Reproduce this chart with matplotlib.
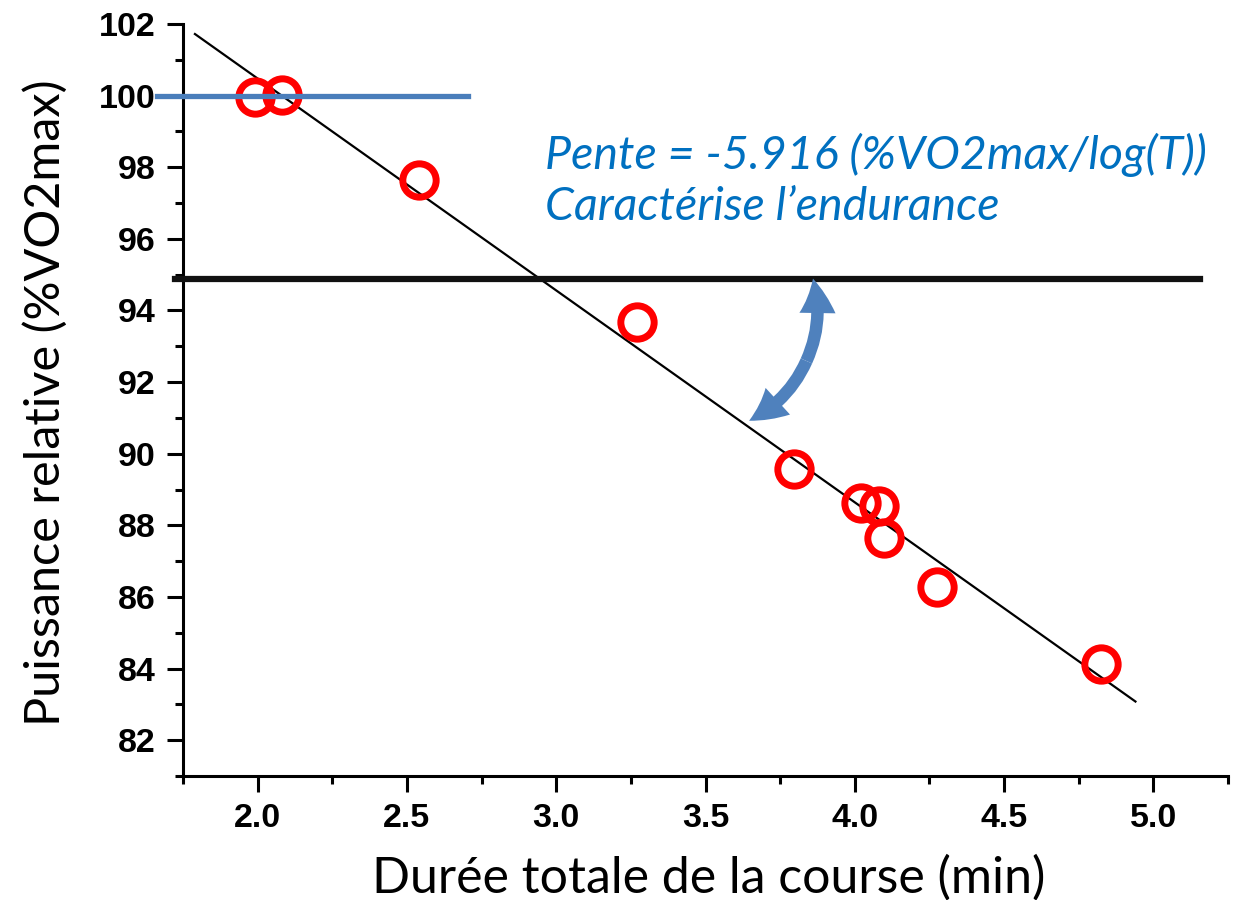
import numpy as np
import matplotlib.pyplot as plt
from matplotlib.patches import FancyArrowPatch
from matplotlib.ticker import MultipleLocator

# measured points (duree en min, puissance en %VO2max)
duree = [1.99, 2.08, 2.54, 3.27, 3.795, 4.02, 4.08, 4.097, 4.275, 4.826]
puissance = [99.97, 100.01, 97.64, 93.67, 89.57, 88.61, 88.55, 87.64, 86.28, 84.13]

# regression line ends
fit_x = [1.79, 4.94]
fit_y = [101.72, 83.08]

# reference levels
ref_x = [1.663, 2.705]
ref_y = [100, 100]
seuil_x = [1.723, 5.157]
seuil_y = [94.89, 94.89]

fig = plt.figure(figsize=(12.4, 9), dpi=100)
ax = fig.add_axes([183/1240, 1-776/900, 1045/1240, 752/900])

ax.plot(fit_x, fit_y, color='black', lw=1.6, zorder=2)
ax.plot(duree, puissance, 'o', ms=24, mfc='none', mec='#ff0000', mew=5, zorder=3)
ax.plot(ref_x, ref_y, color='#4a7ebb', lw=3.8, clip_on=False, zorder=4)
ax.plot(seuil_x, seuil_y, color='#111111', lw=4.5, clip_on=False, zorder=4)

# curved double arrow, drawn as two halves from the middle of the arc
arc_mid = (3.838, 92.59)
arc_top = (3.860, 94.89)
arc_bot = (3.646, 90.92)
style = 'simple,head_length=2.5,head_width=2.6,tail_width=0.9'
for end, rad in [(arc_top, 0.18), (arc_bot, -0.18)]:
    ax.add_patch(FancyArrowPatch(arc_mid, end, arrowstyle=style,
                                 connectionstyle='arc3,rad=%s' % rad,
                                 mutation_scale=10, lw=0, color='#4f81bd',
                                 shrinkA=0, shrinkB=0, zorder=5))

ax.text(2.964, 97.94, 'Pente = -5.916 (%VO2max/log(T))', color='#0070c0',
        fontsize=33.5, family='Lato', style='italic', va='baseline')
ax.text(2.964, 96.52, 'Caractérise l\u2019endurance', color='#0070c0',
        fontsize=33.5, family='Lato', style='italic', va='baseline')

ax.set_xlim(1.75, 5.25)
ax.set_ylim(81, 102)
ax.xaxis.set_minor_locator(MultipleLocator(0.25))
ax.yaxis.set_minor_locator(MultipleLocator(1))
ax.set_xticks(np.arange(2.0, 5.01, 0.5))
ax.set_yticks(np.arange(82, 102.1, 2))
ax.set_xticklabels(['%.1f' % v for v in np.arange(2.0, 5.01, 0.5)])

for s in ['top', 'right']:
    ax.spines[s].set_visible(False)
for s in ['left', 'bottom']:
    ax.spines[s].set_linewidth(2.2)

ax.tick_params(which='major', length=11.5, width=2.2, direction='out', pad=8,
               labelsize=24.5)
ax.tick_params(which='minor', length=6, width=2.2, direction='out')
for lab in ax.get_xticklabels() + ax.get_yticklabels():
    lab.set_family('Liberation Sans')
    lab.set_fontweight('bold')

ax.set_xlabel('Durée totale de la course (min)', fontsize=36, family='Lato',
              va='center')
ax.xaxis.set_label_coords(0.503, -0.136)
ax.set_ylabel('Puissance relative (%VO2max)', fontsize=35, family='Lato',
              va='center')
ax.yaxis.set_label_coords(-138/1045, 0.497)

fig.savefig('out.png', dpi=100)
